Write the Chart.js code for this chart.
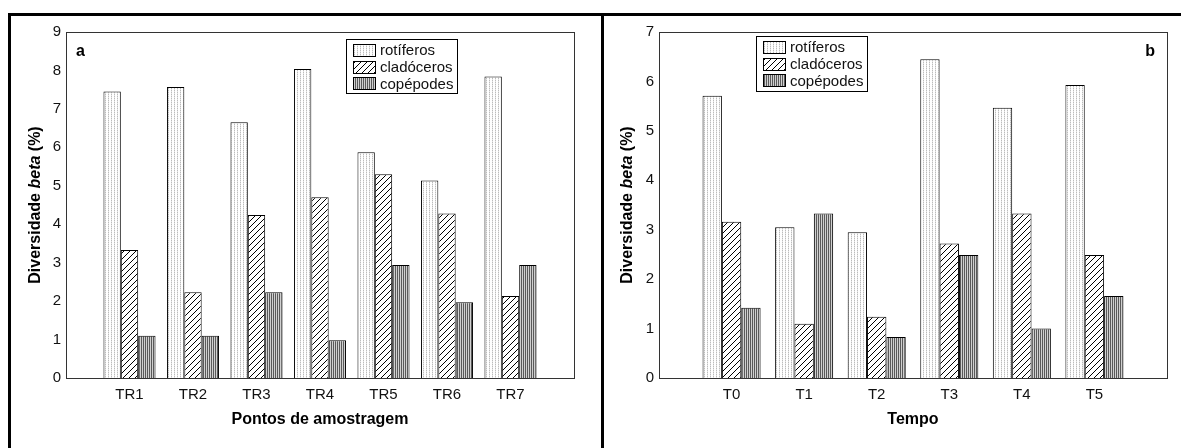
<!DOCTYPE html>
<html>
<head>
<meta charset="utf-8">
<script src="https://cdn.jsdelivr.net/npm/chart.js@4.4.0/dist/chart.umd.min.js"></script>
<style>
  body { margin: 0; background: #fff; width: 1181px; height: 448px; overflow: hidden; position: relative; }
  .line { position: absolute; background: #000; }
  .panel { position: absolute; top: 16px; height: 432px; }
</style>
</head>
<body>
<div class="line" style="left:8px;top:13px;width:1173px;height:3px"></div>
<div class="line" style="left:8px;top:13px;width:3px;height:435px"></div>
<div class="line" style="left:601px;top:13px;width:3px;height:435px"></div>
<div class="panel" style="left:11px;width:590px"><canvas id="chartA" width="590" height="432"></canvas></div>
<div class="panel" style="left:604px;width:577px"><canvas id="chartB" width="577" height="432"></canvas></div>
<script>
// panel a
const pontos = ['TR1', 'TR2', 'TR3', 'TR4', 'TR5', 'TR6', 'TR7'];
const rotiferosA = [7.45, 7.57, 6.65, 8.04, 5.87, 5.14, 7.84];
const cladocerosA = [3.33, 2.23, 4.24, 4.70, 5.30, 4.28, 2.13];
const copepodesA = [1.10, 1.10, 2.23, 0.98, 2.94, 1.97, 2.94];
const yMaxA = 9;

// panel b
const tempo = ['T0', 'T1', 'T2', 'T3', 'T4', 'T5'];
const rotiferosB = [5.71, 3.05, 2.95, 6.45, 5.47, 5.93];
const cladocerosB = [3.16, 1.10, 1.24, 2.72, 3.33, 2.49];
const copepodesB = [1.42, 3.33, 0.83, 2.49, 1.00, 1.66];
const yMaxB = 7;

const seriesNames = ['rotíferos', 'cladóceros', 'copépodes'];

const FONT = "'Liberation Sans', Arial, sans-serif";
Chart.defaults.font.family = FONT;
Chart.defaults.font.size = 14;
Chart.defaults.color = '#111';

function makePattern(ctx, w, h, draw) {
  const c = document.createElement('canvas');
  c.width = w; c.height = h;
  const g = c.getContext('2d');
  g.fillStyle = '#fff';
  g.fillRect(0, 0, w, h);
  draw(g);
  return ctx.createPattern(c, 'repeat');
}

function patterns(ctx) {
  const dots = makePattern(ctx, 3, 2, g => {
    g.fillStyle = '#bcbcbc'; g.fillRect(1, 0, 1, 1);
    g.fillStyle = '#e4e4e4'; g.fillRect(1, 1, 1, 1);
  });
  const hatch = makePattern(ctx, 6, 6, g => {
    g.strokeStyle = '#000'; g.lineWidth = 1;
    g.beginPath();
    g.moveTo(-1, 7); g.lineTo(7, -1);
    g.moveTo(-1, 1); g.lineTo(1, -1);
    g.moveTo(5, 7); g.lineTo(7, 5);
    g.stroke();
  });
  const stripes = makePattern(ctx, 2, 1, g => {
    g.fillStyle = '#5a5a5a'; g.fillRect(0, 0, 1, 1);
    g.fillStyle = '#d0d0d0'; g.fillRect(1, 0, 1, 1);
  });
  return [dots, hatch, stripes];
}

const pad = arr => [null, ...arr, null];

// frame, legend box, panel letter and axis titles
const decor = {
  id: 'decor',
  afterDraw(chart, args, o) {
    const ctx = chart.ctx;
    const a = chart.chartArea;
    ctx.save();
    ctx.strokeStyle = '#333';
    ctx.lineWidth = 1;
    ctx.strokeRect(a.left + 0.5, a.top + 0.5, a.right - a.left, a.bottom - a.top);

    // legend
    const L = o.legend;
    ctx.strokeStyle = '#000';
    ctx.strokeRect(L.x + 0.5, L.y + 0.5, L.w, L.h);
    ctx.font = '15px ' + FONT;
    ctx.textBaseline = 'middle';
    ctx.textAlign = 'left';
    chart.data.datasets.forEach((ds, i) => {
      const cy = L.y + 11 + i * 16.7;
      ctx.fillStyle = ds.backgroundColor;
      ctx.fillRect(L.x + 7, Math.round(cy - 6), 23, 12);
      ctx.strokeRect(L.x + 7.5, Math.round(cy - 6) + 0.5, 22, 12);
      ctx.fillStyle = '#111';
      ctx.fillText(ds.label, L.x + 34, cy + 1);
    });

    // panel letter
    ctx.font = 'bold 16px ' + FONT;
    ctx.textAlign = o.letterAlign;
    ctx.fillStyle = '#000';
    ctx.fillText(o.letter, o.letterX, 36);

    // x title
    ctx.font = 'bold 16px ' + FONT;
    ctx.textAlign = 'center';
    ctx.fillText(o.xTitle, (a.left + a.right) / 2, 404);

    // y title with italic "beta"
    const parts = [
      ['bold 16px ', 'Diversidade '],
      ['italic bold 16px ', 'beta'],
      ['bold 16px ', ' (%)']
    ];
    let total = 0;
    parts.forEach(p => { ctx.font = p[0] + FONT; total += ctx.measureText(p[1]).width; });
    ctx.translate(o.yTitleX, (a.top + a.bottom) / 2);
    ctx.rotate(-Math.PI / 2);
    ctx.textAlign = 'left';
    let x = -total / 2;
    parts.forEach(p => {
      ctx.font = p[0] + FONT;
      ctx.fillText(p[1], x, 0);
      x += ctx.measureText(p[1]).width;
    });
    ctx.restore();
  }
};

function makeChart(id, cats, values, yMax, catPct, padRight, deco) {
  const canvas = document.getElementById(id);
  const fills = patterns(canvas.getContext('2d'));
  return new Chart(canvas, {
    type: 'bar',
    data: {
      labels: pad(cats).map(c => c || ''),
      datasets: values.map((v, i) => ({
        label: seriesNames[i],
        data: pad(v),
        backgroundColor: fills[i],
        borderColor: '#000',
        borderWidth: 1,
        categoryPercentage: catPct,
        barPercentage: 1
      }))
    },
    options: {
      responsive: false,
      animation: false,
      layout: { padding: { left: 0, top: 16, right: padRight, bottom: 0 } },
      plugins: { legend: { display: false }, tooltip: { enabled: false }, decor: deco },
      scales: {
        x: {
          offset: false,
          grid: { display: false, drawTicks: false },
          border: { display: true, color: '#000' },
          ticks: { padding: 8, font: { size: 15 }, autoSkip: false, maxRotation: 0 },
          afterFit: s => { s.height = 70; }
        },
        y: {
          min: 0, max: yMax,
          grid: { display: false, drawTicks: false },
          border: { display: true, color: '#000' },
          ticks: { stepSize: 1, padding: 5, font: { size: 15 } },
          afterFit: s => { s.width = 55; }
        }
      }
    },
    plugins: [decor]
  });
}

makeChart('chartA', pontos, [rotiferosA, cladocerosA, copepodesA], yMaxA, 0.82, 27, {
  legend: { x: 335, y: 23, w: 111, h: 54 },
  letter: 'a', letterX: 65, letterAlign: 'left',
  xTitle: 'Pontos de amostragem', yTitleX: 25
});
makeChart('chartB', tempo, [rotiferosB, cladocerosB, copepodesB], yMaxB, 0.8, 14, {
  legend: { x: 152, y: 20, w: 111, h: 55 },
  letter: 'b', letterX: 551, letterAlign: 'right',
  xTitle: 'Tempo', yTitleX: 24
});
</script>
</body>
</html>
